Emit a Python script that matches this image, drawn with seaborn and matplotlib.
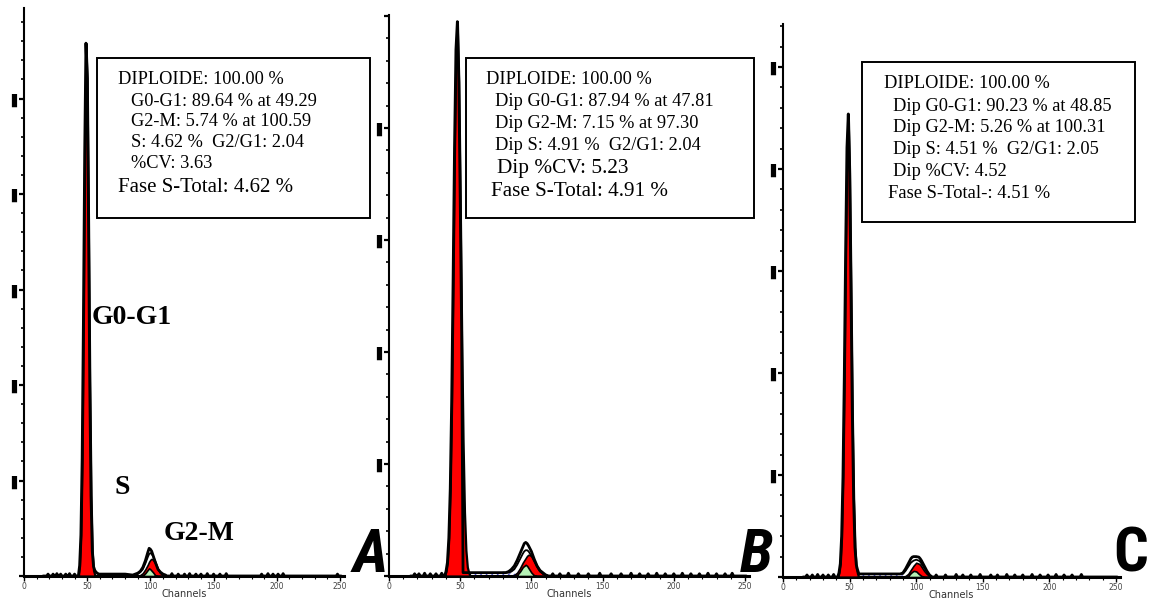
import numpy as np
import pandas as pd
import matplotlib
matplotlib.use("Agg")
import matplotlib.pyplot as plt
import seaborn as sns
from matplotlib.patches import Rectangle
from matplotlib.ticker import MultipleLocator, FixedLocator, FixedFormatter

sns.set_theme(style="ticks")
plt.rcParams['font.family'] = ['DejaVu Sans']
plt.rcParams['hatch.linewidth'] = 0.8
for k in ("text.color", "axes.labelcolor", "xtick.color", "ytick.color", "axes.edgecolor"):
    plt.rcParams[k] = "black"

W, H = 1151, 599

# ---------------- data (counts per channel) ----------------
# Panel A
A_g1_ch = list(range(43, 58))
A_g1 = [0, 11, 43, 123, 268, 442, 558, 521, 374, 203, 84, 26, 6, 1, 0]
A_g1_data_ch = list(range(43, 60))
A_g1_data = [0, 11, 43, 123, 268, 442, 558, 521, 374, 203, 84, 26, 10, 6, 4, 3, 2]
A_s_ch = [57, 60, 70, 80, 88, 92]
A_s = [1.5, 1.5, 1.5, 1.5, 1.5, 0]
A_g2_ch = [86, 88, 90, 92, 94, 96, 98, 99, 100, 101, 102, 104, 106, 108, 110, 112]
A_g2_data = [1, 2, 3, 5, 9, 16, 25, 29, 28, 26, 22, 14, 7, 4, 2, 1]
A_g2_sum = [1, 1, 2, 4, 7, 13, 20, 23, 24, 23, 21, 15, 8, 3, 1, 0]
A_g2_red = [0, 0, 0, 1, 3, 7, 12, 15, 17, 18, 17, 13, 7, 3, 1, 0]
A_g2_green = [0, 0, 0, 0, 0.5, 3, 6.5, 8, 7, 5.5, 4, 0.5, 0, 0, 0, 0]
A_noise_ch = [19, 23, 26, 29, 33, 36, 40, 84, 112, 117, 122, 127, 131, 136, 140,
              145, 150, 155, 160, 188, 193, 197, 201, 205, 248]
A_noise = [2, 2, 2.5, 2, 2, 2.5, 2, 2.5, 2, 2.5, 2, 2, 2.5, 2, 2, 2.5, 2, 2, 2.5,
           2, 2.5, 2, 2, 2.5, 2]

# Panel B
B_g1_ch = list(range(39, 58))
B_g1 = [0, 4, 12, 34, 78, 156, 264, 382, 470, 495, 441, 336, 218, 121, 57, 23, 8, 3, 0]
B_g1_data_ch = list(range(39, 60))
B_g1_data = [0, 4, 12, 34, 78, 156, 264, 382, 470, 495, 441, 336, 218, 121, 57, 23, 10,
             6, 4, 3, 3]
B_s_ch = [50, 52, 60, 70, 80, 88, 90]
B_s = [0, 2.5, 2.5, 2.5, 2.5, 2.5, 0]
B_g2_ch = [80, 82, 84, 86, 88, 90, 92, 94, 95, 96, 97, 98, 100, 102, 104, 106, 108, 110, 112]
B_g2_data = [3, 3, 4, 6, 9, 14, 20, 26, 29, 30, 29, 27, 22, 15, 9, 5, 3, 1, 0]
B_g2_sum = [3, 3, 3, 4, 6, 10, 15, 20, 22, 23, 23, 22, 18, 13, 8, 4, 2, 1, 0]
B_g2_red = [0, 0, 0, 0, 1, 3, 7, 12, 14, 16, 18, 19, 18, 14, 9, 5, 2, 1, 0]
B_g2_green = [0, 0, 0, 0, 0, 1, 4, 8, 9, 10, 9, 7, 3, 0.5, 0, 0, 0, 0, 0]
B_noise_ch = [18, 21, 25, 29, 33, 37, 115, 120, 126, 133, 140, 148, 156, 163, 170, 176,
              182, 188, 194, 200, 206, 212, 218, 224, 230, 236, 241]
B_noise = [2, 2, 2.5, 2, 2, 2.5, 2, 2, 2.5, 2, 2, 2.5, 2, 2, 2.5, 2, 2, 2.5, 2, 2,
           2.5, 2, 2, 2.5, 2, 2, 2.5]

# Panel C
C_g1_ch = list(range(41, 58))
C_g1 = [0, 4, 13, 40, 98, 196, 319, 421, 454, 396, 282, 163, 77, 29, 9, 3, 0]
C_g1_data_ch = list(range(41, 61))
C_g1_data = [0, 4, 13, 40, 98, 196, 319, 421, 454, 396, 282, 163, 77, 29, 12, 7, 5, 4,
             3, 3]
C_s_ch = [55, 57, 65, 75, 85, 89, 91]
C_s = [0, 2.5, 2.5, 2.5, 2.5, 2.5, 0]
C_g2_ch = [86, 88, 90, 92, 94, 96, 97, 98, 100, 102, 103, 104, 106, 108, 110, 112]
C_g2_data = [3, 3, 4, 8, 13, 18, 19.5, 20, 20, 19.5, 18, 16, 11, 6, 2, 0]
C_g2_sum = [3, 3, 3, 6, 10, 14, 15, 16, 17, 16, 15, 13, 9, 5, 1.5, 0]
C_g2_red = [0, 0, 0, 1, 3, 7, 9, 11, 14, 13, 12, 10, 6, 3, 1, 0]
C_g2_green = [0, 0, 0, 0, 1, 4, 5, 6, 5.5, 3, 2, 1, 0, 0, 0, 0]
C_noise_ch = [18, 22, 26, 30, 34, 38, 115, 122, 130, 135, 141, 148, 156, 161, 168, 174,
              180, 187, 193, 199, 205, 211, 217, 224]
C_noise = [2, 2, 2.5, 2, 2, 2.5, 2, 2, 2.5, 2, 2, 2.5, 2, 2, 2.5, 2, 2, 2.5, 2, 2,
           2.5, 2, 2, 2.5]

# tick labels
x_ticks = [0, 50, 100, 150, 200, 250]
x_ticklabels = ["0", "50", "100", "150", "200", "250"]
y_ticks = [0, 100, 200, 300, 400, 500]
A_yticklabels = ["", "\u258c", "\u258c", "\u258c", "\u258c", "\u258c"]
B_yticklabels = ["", "\u258c", "\u258c", "\u258c", "\u258c", ""]
C_yticklabels = ["", "\u258c", "\u258c", "\u258c", "\u258c", "\u258c"]

# statistics boxes
A_lines = ["DIPLOIDE: 100.00 %", "G0-G1: 89.64 % at 49.29", "G2-M: 5.74 % at 100.59",
           "S: 4.62 %  G2/G1: 2.04", "%CV: 3.63", "Fase S-Total: 4.62 %"]
B_lines = ["DIPLOIDE: 100.00 %", "Dip G0-G1: 87.94 % at 47.81", "Dip G2-M: 7.15 % at 97.30",
           "Dip S: 4.91 %  G2/G1: 2.04", "Dip %CV: 5.23", "Fase S-Total: 4.91 %"]
C_lines = ["DIPLOIDE: 100.00 %", "Dip G0-G1: 90.23 % at 48.85", "Dip G2-M: 5.26 % at 100.31",
           "Dip S: 4.51 %  G2/G1: 2.05", "Dip %CV: 4.52", "Fase S-Total-: 4.51 %"]
panel_letters = ["A", "B", "C"]

# ---------------- layout (pixels) ----------------
fig = plt.figure(figsize=(W / 100, H / 100), dpi=100)
fig.patch.set_facecolor("white")


def add_axes_px(x0, ppc, base, top, ymax):
    ax = fig.add_axes([x0 / W, (H - base) / H, 253 * ppc / W, (base - top) / H])
    ax.set_xlim(0, 253)
    ax.set_ylim(0, ymax)
    return ax


def build_line(parts, spk_ch, spk_h, start, end):
    pts = {}
    for c, v in zip(spk_ch, spk_h):
        pts.setdefault(c - 1, 0)
        pts[c] = v
        pts.setdefault(c + 1, 0)
    for chs, vals in parts:
        lo, hi = min(chs), max(chs)
        for k in [k for k in pts if lo <= k <= hi]:
            del pts[k]
        for c, v in zip(chs, vals):
            pts[c] = v
    pts.setdefault(start, 0)
    pts.setdefault(end, 0)
    return pd.DataFrame(sorted(pts.items()), columns=["channel", "count"])


def draw_panel(ax, g1_ch, g1, g1d_ch, g1d, s_ch, s, g2_ch, g2d, g2s, g2r, g2g,
               n_ch, n, end):
    ax.fill_between(s_ch, 0, s, facecolor="white", edgecolor="#4a4ad0", hatch="//////",
                    lw=0, zorder=2)
    ax.fill_between(g2_ch, 0, g2r, facecolor="#ff0000", edgecolor="black", lw=1.2, zorder=3)
    ax.fill_between(g2_ch, 0, g2g, facecolor="#b6f2b6", edgecolor="black", lw=1.2, zorder=4)
    sns.lineplot(x=g2_ch, y=g2s, ax=ax, color="black", lw=1.3, zorder=5, estimator=None)
    ax.fill_between(g1_ch, 0, g1, facecolor="#ff0000", edgecolor="black", lw=1.6, zorder=3)
    df = build_line([(g1d_ch, g1d), (s_ch[1:-1], [v + 0.5 for v in s[1:-1]]),
                     (g2_ch, g2d)], n_ch, n, 15, end)
    sns.lineplot(data=df, x="channel", y="count", ax=ax, color="black", lw=2.0,
                 zorder=6, estimator=None, sort=True)


def style_axes(ax, ylabels):
    sns.despine(ax=ax)
    ax.set_facecolor("none")
    ax.spines["left"].set_linewidth(1.5)
    ax.spines["bottom"].set_linewidth(2.2)
    ax.xaxis.set_major_locator(FixedLocator(x_ticks))
    ax.xaxis.set_major_formatter(FixedFormatter(x_ticklabels))
    ax.xaxis.set_minor_locator(MultipleLocator(10))
    ax.yaxis.set_major_locator(FixedLocator(y_ticks))
    ax.yaxis.set_major_formatter(FixedFormatter(ylabels))
    ax.yaxis.set_minor_locator(MultipleLocator(20))
    ax.tick_params(axis="x", which="major", direction="out", length=3.5, width=1,
                   labelsize=5.5, labelcolor="#444444", pad=1)
    ax.tick_params(axis="x", which="minor", direction="out", length=2, width=0.8)
    ax.tick_params(axis="y", which="major", direction="out", length=3.5, width=1.6,
                   labelsize=9.5, pad=-1.5)
    ax.tick_params(axis="y", which="minor", direction="out", length=2, width=1.2)
    ax.set_xlabel("Channels", fontsize=7, color="#333333", labelpad=-1.5)
    ax.set_ylabel("")


axA = add_axes_px(24, 316 / 250, 576, 8, 594.8)
axB = add_axes_px(389, 356 / 250, 576, 15, 500.9)
axC = add_axes_px(783, 333 / 250, 577, 24, 542.2)

draw_panel(axA, A_g1_ch, A_g1, A_g1_data_ch, A_g1_data, A_s_ch, A_s, A_g2_ch, A_g2_data,
           A_g2_sum, A_g2_red, A_g2_green, A_noise_ch, A_noise, 251)
draw_panel(axB, B_g1_ch, B_g1, B_g1_data_ch, B_g1_data, B_s_ch, B_s, B_g2_ch, B_g2_data,
           B_g2_sum, B_g2_red, B_g2_green, B_noise_ch, B_noise, 251)
draw_panel(axC, C_g1_ch, C_g1, C_g1_data_ch, C_g1_data, C_s_ch, C_s, C_g2_ch, C_g2_data,
           C_g2_sum, C_g2_red, C_g2_green, C_noise_ch, C_noise, 251)
style_axes(axA, A_yticklabels)
style_axes(axB, B_yticklabels)
style_axes(axC, C_yticklabels)

serif = ["Liberation Serif", "DejaVu Serif"]


def ftext(x, y, s, **kw):
    fig.text(x / W, 1 - y / H, s, **kw)


def stat_box(x0, y0, x1, y1, lines, xs, ys, sizes):
    fig.add_artist(Rectangle((x0 / W, 1 - y1 / H), (x1 - x0) / W, (y1 - y0) / H,
                             transform=fig.transFigure, facecolor="white",
                             edgecolor="black", lw=1.4, zorder=2))
    for s, x, y, fs in zip(lines, xs, ys, sizes):
        ftext(x, y, s, ha="left", va="center", fontsize=fs, family=serif, color="black",
              zorder=3)


stat_box(97, 58, 370, 218, A_lines, [118, 131, 131, 131, 131, 118],
         [80, 101, 122, 143, 164, 187], [13.2, 13.2, 13.2, 13.2, 13.2, 15])
stat_box(466, 58, 754, 218, B_lines, [486, 495, 495, 495, 497, 491],
         [80, 102, 123, 145, 168, 191], [13.2, 13.2, 13.2, 13.2, 15.3, 15.2])
stat_box(862, 62, 1135, 222, C_lines, [884, 893, 893, 893, 893, 888],
         [84, 107, 128, 149, 171, 193], [13.2, 13.2, 13.2, 13.2, 13.2, 13.4])

# phase labels on panel A
ftext(132, 318, "G0-G1", ha="center", va="center", fontsize=20, fontweight="bold",
      family=serif, color="black")
ftext(122, 487, "S", ha="center", va="center", fontsize=20, fontweight="bold",
      family=serif, color="black")
ftext(199, 534, "G2-M", ha="center", va="center", fontsize=20, fontweight="bold",
      family=serif, color="black")

# panel letters
letter_fam = ["Roboto Condensed", "Open Sans Condensed", "Liberation Sans Narrow",
              "DejaVu Sans"]
ftext(370, 584, panel_letters[0], ha="center", va="bottom", fontsize=44,
      fontweight="heavy", style="italic", family=letter_fam, fontstretch="condensed",
      color="black")
ftext(756, 584, panel_letters[1], ha="center", va="bottom", fontsize=44,
      fontweight="heavy", style="italic", family=letter_fam, fontstretch="condensed",
      color="black")
ftext(1148, 584, panel_letters[2], ha="right", va="bottom", fontsize=44,
      fontweight="heavy", family=letter_fam, fontstretch="condensed", color="black")

fig.savefig("out.png", dpi=100, facecolor="white")
